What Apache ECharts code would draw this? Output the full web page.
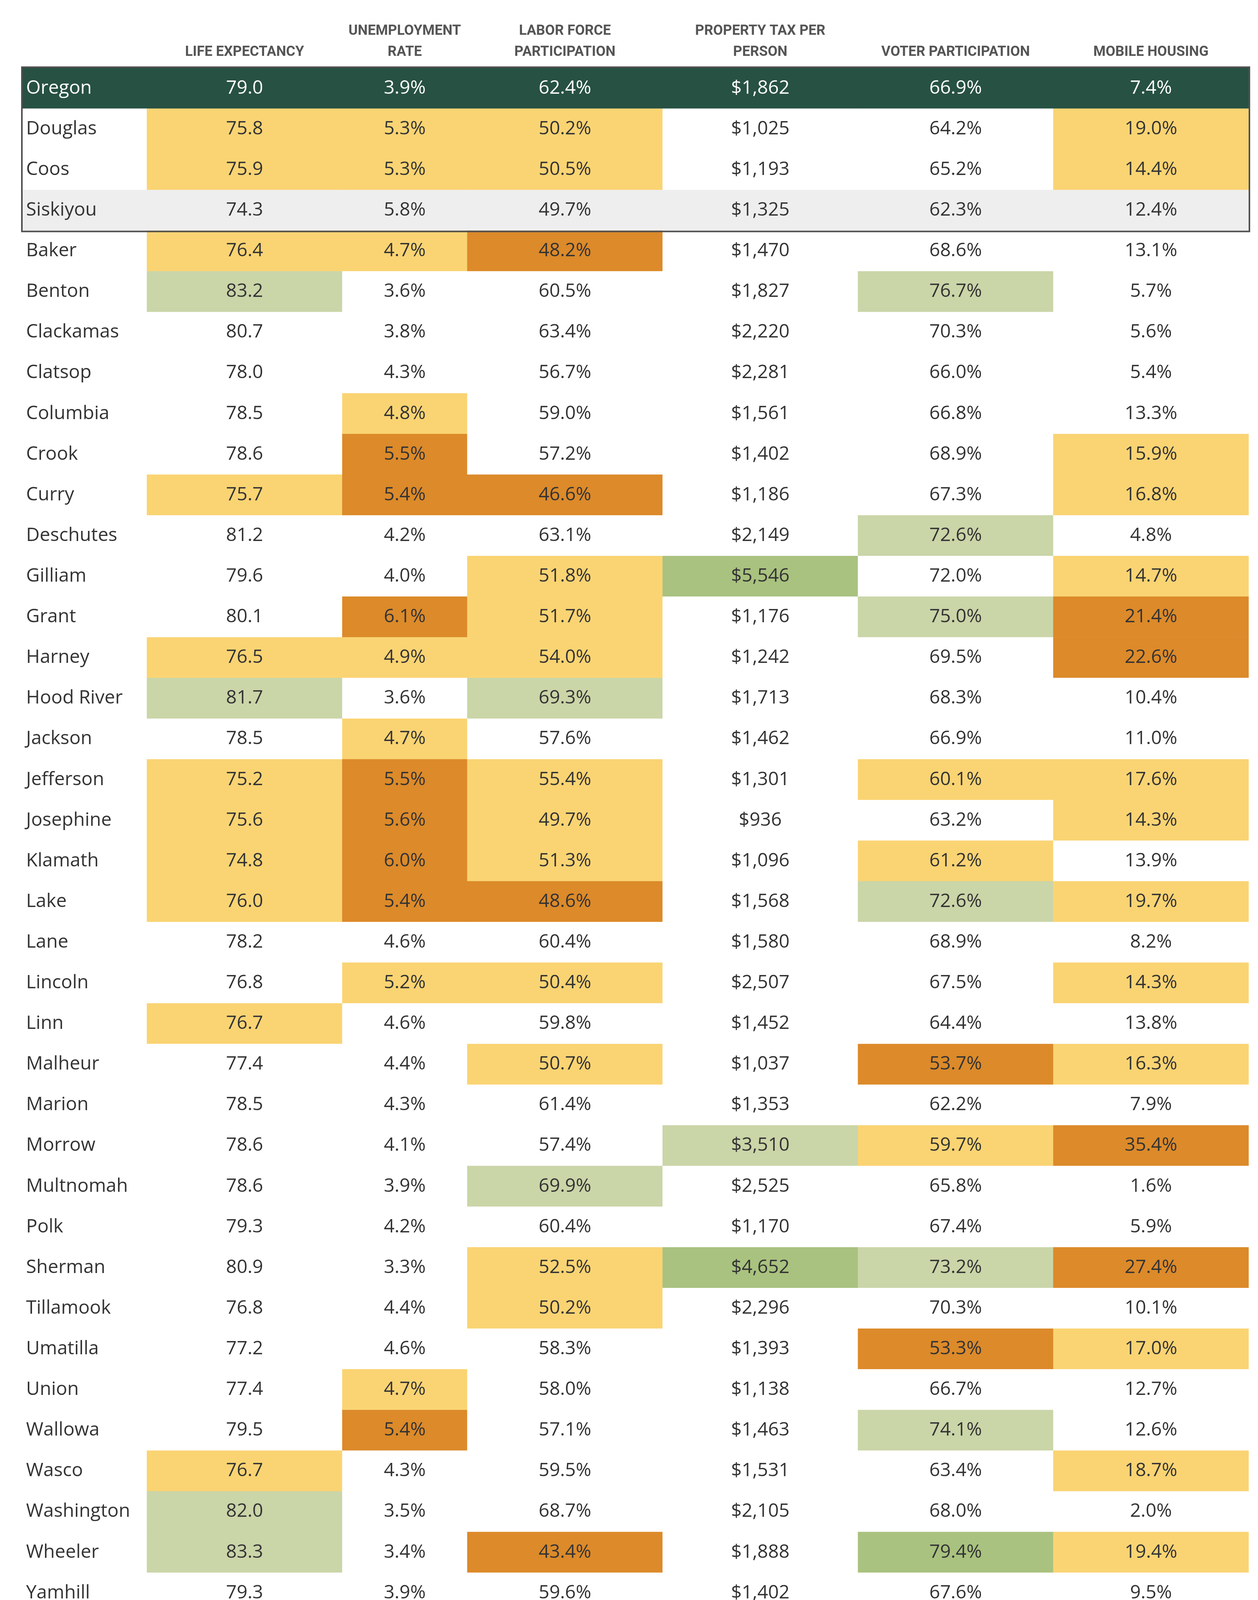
<!DOCTYPE html>
<html>
<head>
<meta charset="utf-8">
<script src="https://cdn.jsdelivr.net/npm/echarts@6/dist/echarts.min.js"></script>
<style>
  html, body { margin: 0; padding: 0; background: #fff; }
  #chart { width: 3220px; height: 4170px; }
</style>
</head>
<body>
<div id="chart"></div>
<script>
// rows of the table (Oregon state total first)
var counties = ['Oregon', 'Douglas', 'Coos', 'Siskiyou', 'Baker', 'Benton', 'Clackamas', 'Clatsop',
  'Columbia', 'Crook', 'Curry', 'Deschutes', 'Gilliam', 'Grant', 'Harney', 'Hood River', 'Jackson',
  'Jefferson', 'Josephine', 'Klamath', 'Lake', 'Lane', 'Lincoln', 'Linn', 'Malheur', 'Marion',
  'Morrow', 'Multnomah', 'Polk', 'Sherman', 'Tillamook', 'Umatilla', 'Union', 'Wallowa', 'Wasco',
  'Washington', 'Wheeler', 'Yamhill'];

var headers = ['LIFE EXPECTANCY', 'UNEMPLOYMENT\nRATE', 'LABOR FORCE\nPARTICIPATION',
  'PROPERTY TAX PER\nPERSON', 'VOTER PARTICIPATION', 'MOBILE HOUSING'];

var lifeExpectancy = [79.0, 75.8, 75.9, 74.3, 76.4, 83.2, 80.7, 78.0, 78.5, 78.6, 75.7, 81.2, 79.6,
  80.1, 76.5, 81.7, 78.5, 75.2, 75.6, 74.8, 76.0, 78.2, 76.8, 76.7, 77.4, 78.5, 78.6, 78.6, 79.3,
  80.9, 76.8, 77.2, 77.4, 79.5, 76.7, 82.0, 83.3, 79.3];
var unemploymentRate = [3.9, 5.3, 5.3, 5.8, 4.7, 3.6, 3.8, 4.3, 4.8, 5.5, 5.4, 4.2, 4.0, 6.1, 4.9,
  3.6, 4.7, 5.5, 5.6, 6.0, 5.4, 4.6, 5.2, 4.6, 4.4, 4.3, 4.1, 3.9, 4.2, 3.3, 4.4, 4.6, 4.7, 5.4,
  4.3, 3.5, 3.4, 3.9];
var laborForce = [62.4, 50.2, 50.5, 49.7, 48.2, 60.5, 63.4, 56.7, 59.0, 57.2, 46.6, 63.1, 51.8,
  51.7, 54.0, 69.3, 57.6, 55.4, 49.7, 51.3, 48.6, 60.4, 50.4, 59.8, 50.7, 61.4, 57.4, 69.9, 60.4,
  52.5, 50.2, 58.3, 58.0, 57.1, 59.5, 68.7, 43.4, 59.6];
var propertyTax = [1862, 1025, 1193, 1325, 1470, 1827, 2220, 2281, 1561, 1402, 1186, 2149, 5546,
  1176, 1242, 1713, 1462, 1301, 936, 1096, 1568, 1580, 2507, 1452, 1037, 1353, 3510, 2525, 1170,
  4652, 2296, 1393, 1138, 1463, 1531, 2105, 1888, 1402];
var voterParticipation = [66.9, 64.2, 65.2, 62.3, 68.6, 76.7, 70.3, 66.0, 66.8, 68.9, 67.3, 72.6,
  72.0, 75.0, 69.5, 68.3, 66.9, 60.1, 63.2, 61.2, 72.6, 68.9, 67.5, 64.4, 53.7, 62.2, 59.7, 65.8,
  67.4, 73.2, 70.3, 53.3, 66.7, 74.1, 63.4, 68.0, 79.4, 67.6];
var mobileHousing = [7.4, 19.0, 14.4, 12.4, 13.1, 5.7, 5.6, 5.4, 13.3, 15.9, 16.8, 4.8, 14.7, 21.4,
  22.6, 10.4, 11.0, 17.6, 14.3, 13.9, 19.7, 8.2, 14.3, 13.8, 16.3, 7.9, 35.4, 1.6, 5.9, 27.4, 10.1,
  17.0, 12.7, 12.6, 18.7, 2.0, 19.4, 9.5];

// cell highlight per row: Y = low, O = very low, L = high, G = very high, . = none
var lifeExpectancyClass = ('.YY.YL....' + 'Y...YL.YYY' + 'Y..Y......' + '....YLL.').split('');
var unemploymentClass = ('.YY.Y...YO' + 'O..OY.YOOO' + 'O.Y.......' + '..YO....').split('');
var laborForceClass = ('.YY.O.....' + 'O.YYYL.YYY' + 'O.Y.Y..L.Y' + 'Y.....O.').split('');
var propertyTaxClass = ('..........' + '..G.......' + '......L..G' + '........').split('');
var voterClass = ('.....L....' + '.L.L...Y.Y' + 'L...O.Y..L' + '.O.L..G.').split('');
var mobileHousingClass = ('.YY......Y' + 'Y.YOO..YY.' + 'Y.Y.Y.O..O' + '.Y..Y.Y.').split('');

var classColors = { '.': '#ffffff', 'Y': '#fad473', 'O': '#dc8a2a', 'L': '#cad5a8', 'G': '#a9c27f' };
var stateColor = '#275143';
var greyRowColor = '#eeeeee';
var BODY_FONT = '"Open Sans", Roboto, sans-serif';
var HEAD_FONT = 'Roboto, "Open Sans", sans-serif';

function pct(v) { return v.toFixed(1) + '%'; }
function dollars(v) { return '$' + v.toLocaleString('en-US'); }

var columns = [
  { values: lifeExpectancy, cls: lifeExpectancyClass, fmt: function (v) { return v.toFixed(1); } },
  { values: unemploymentRate, cls: unemploymentClass, fmt: pct },
  { values: laborForce, cls: laborForceClass, fmt: pct },
  { values: propertyTax, cls: propertyTaxClass, fmt: dollars },
  { values: voterParticipation, cls: voterClass, fmt: pct },
  { values: mobileHousing, cls: mobileHousingClass, fmt: pct }
];

// layout
var tableLeft = 58, tableTop = 174, tableHeight = 3956;
var nameWidth = 318;
var colWidths = [500, 320, 500, 500, 500, 500];

var grids = [], xAxes = [], yAxes = [], series = [];

function cellColor(row, c) {
  if (row === 0) return stateColor;
  if (c === '.' && counties[row] === 'Siskiyou') return greyRowColor;
  return classColors[c];
}

function addColumn(left, width, header, items, labelPos) {
  var i = grids.length;
  grids.push({ left: left, top: tableTop, width: width, height: tableHeight });
  xAxes.push({
    type: 'category', gridIndex: i, position: 'top', data: [header],
    axisLine: { show: false }, axisTick: { show: false }, splitLine: { show: false },
    axisLabel: {
      interval: 0, margin: 13, color: '#555555', fontFamily: HEAD_FONT, fontWeight: 'bold',
      fontSize: 36, lineHeight: 54
    }
  });
  yAxes.push({
    type: 'category', gridIndex: i, data: counties, inverse: true, show: false
  });
  series.push({
    type: 'heatmap', xAxisIndex: i, yAxisIndex: i, data: items,
    silent: true, emphasis: { disabled: true },
    itemStyle: { borderWidth: 0 },
    label: {
      show: true, position: labelPos, distance: 9,
      fontFamily: BODY_FONT, fontSize: 48, color: '#333333',
      formatter: function (p) { return p.data.text; }
    }
  });
}

// county name column
addColumn(tableLeft, nameWidth, '', counties.map(function (name, r) {
  return {
    value: [0, r, 0], text: name,
    itemStyle: { color: cellColor(r, '.') },
    label: { color: r === 0 ? '#ffffff' : '#333333' }
  };
}), 'insideLeft');

var x = tableLeft + nameWidth;
columns.forEach(function (col, ci) {
  addColumn(x, colWidths[ci], headers[ci], col.values.map(function (v, r) {
    return {
      value: [0, r, v], text: col.fmt(v),
      itemStyle: { color: cellColor(r, col.cls[r]) },
      label: { color: r === 0 ? '#ffffff' : '#333333' }
    };
  }), 'inside');
  x += colWidths[ci];
});

var chart = echarts.init(document.getElementById('chart'));
chart.setOption({
  animation: false,
  backgroundColor: '#ffffff',
  grid: grids,
  xAxis: xAxes,
  yAxis: yAxes,
  series: series
});

// frame round the state row and the three highlighted counties
var y0 = chart.convertToPixel({ yAxisIndex: 0 }, counties[0]);
var y1 = chart.convertToPixel({ yAxisIndex: 0 }, counties[1]);
var y3 = chart.convertToPixel({ yAxisIndex: 0 }, counties[3]);
var band = y1 - y0;
var lw = 4;
chart.setOption({
  graphic: [{
    type: 'rect', z: 100, silent: true,
    shape: {
      x: tableLeft - lw / 2, y: y0 - band / 2 - lw / 2,
      width: x - tableLeft + lw, height: (y3 - y0) + band + lw
    },
    style: { fill: 'none', stroke: '#505050', lineWidth: lw }
  }]
});
</script>
</body>
</html>
